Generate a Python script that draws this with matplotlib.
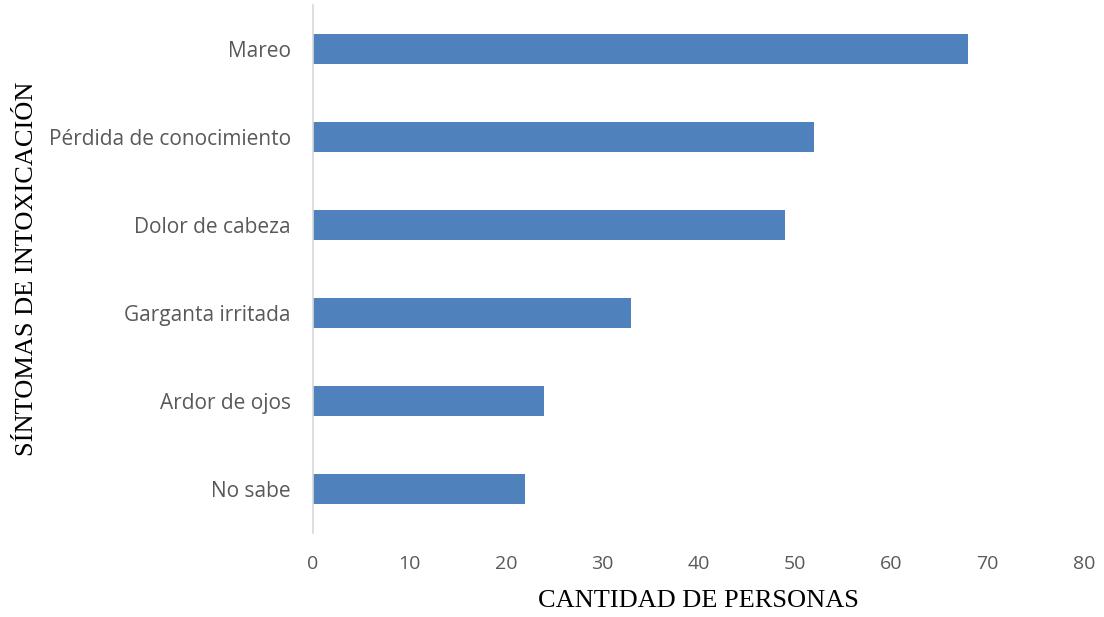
import matplotlib
matplotlib.use("Agg")
import matplotlib.pyplot as plt

categorias = ["No sabe", "Ardor de ojos", "Garganta irritada",
              "Dolor de cabeza", "Pérdida de conocimiento", "Mareo"]
personas = [22, 24, 33, 49, 52, 68]
xticks = [0, 10, 20, 30, 40, 50, 60, 70, 80]

fig = plt.figure(figsize=(11.04, 6.17), dpi=100)
ax = fig.add_axes([0.2835, 0.136, 0.6985, 0.856])

ax.barh(categorias, personas, height=0.34, color="#4F81BD")

ax.set_xlim(0, 80)
ax.set_ylim(-0.5, len(categorias) - 0.5)
ax.set_xticks(xticks)

for s in ["top", "right", "bottom"]:
    ax.spines[s].set_visible(False)
ax.spines["left"].set_color("#D9D9D9")
ax.spines["left"].set_linewidth(1.2)

ax.tick_params(axis="both", length=0, labelcolor="#595959")
ax.tick_params(axis="y", pad=16, labelsize=15)
ax.tick_params(axis="x", pad=16, labelsize=14)
for lab in ax.get_xticklabels() + ax.get_yticklabels():
    lab.set_fontfamily("Open Sans")

ax.set_xlabel("CANTIDAD DE PERSONAS", fontfamily="Liberation Serif",
              fontsize=19)
ax.set_ylabel("SÍNTOMAS DE INTOXICACIÓN", fontfamily="Liberation Serif",
              fontsize=19)
ax.xaxis.set_label_coords(0.5, -0.108)
ax.yaxis.set_label_coords(-0.357, 0.5)

fig.savefig("out.png", dpi=100)
